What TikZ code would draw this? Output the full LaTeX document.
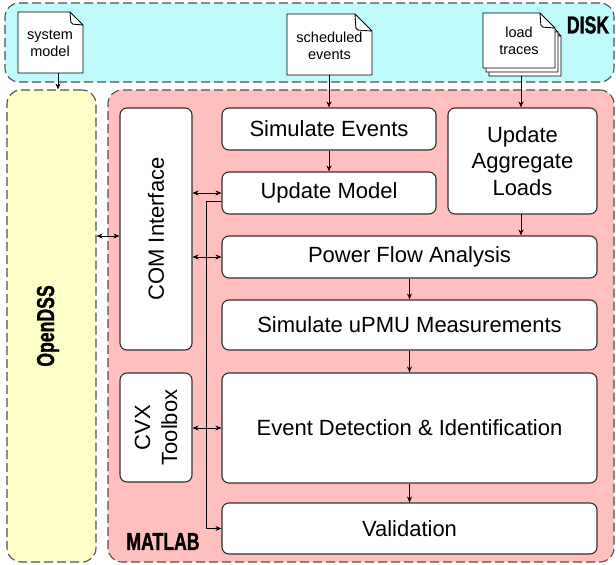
\documentclass[tikz,border=0pt]{standalone}
\usepackage{fontspec}
\setmainfont{Liberation Sans}
\newfontfamily\condbf{Liberation Sans Bold}[FakeStretch=0.72,FakeBold=1.2]
\usetikzlibrary{arrows.meta,calc}
\definecolor{diskc}{HTML}{BFFBFC}
\definecolor{matc}{HTML}{FFBFBF}
\definecolor{dssc}{HTML}{FFFFC8}
\definecolor{edgec}{HTML}{303030}
\definecolor{dashc}{HTML}{505050}
\newcommand\mydoc[5]{%
  \draw[docline] (#1,#2) -- (#3-#5,#2) -- (#3,#2+#5) -- (#3,#4) -- (#1,#4) -- cycle;
  \draw[docline, fill=none, rounded corners=2pt] (#3-#5,#2) -- (#3-#5+1,#2+#5-1) -- (#3,#2+#5);
}
\begin{document}
\begin{tikzpicture}[x=1pt,y=-1pt,
  container/.style={draw=dashc, line width=1.1pt, dash pattern=on 9pt off 4pt, rounded corners=14pt, inner sep=0pt},
  proc/.style={draw=edgec, line width=1.1pt, fill=white, rounded corners=7pt, inner sep=0pt, align=center, font=\fontsize{22}{26.5}\selectfont},
  doctext/.style={align=center, font=\fontsize{14.5}{17}\selectfont, inner sep=0pt},
  docline/.style={draw=black, line width=0.9pt, fill=white, line join=round},
  arr/.style={-{Stealth[length=6pt,width=5pt]}, line width=0.8pt},
  darr/.style={{Stealth[length=6pt,width=5pt]}-{Stealth[length=6pt,width=5pt]}, line width=0.8pt},
  lbl/.style={font=\condbf\fontsize{24.5}{27}\selectfont, inner sep=0pt}
]
\useasboundingbox (0,0) rectangle (616,565);
\fill[white] (0,0) rectangle (616,565);

% containers
\node[container, fill=diskc, minimum width=609pt, minimum height=79pt] (disk) at (309.5,42.5) {};
\node[container, fill=dssc, minimum width=89pt, minimum height=472pt] (dss) at (51.5,326) {};
\node[container, fill=matc, minimum width=506pt, minimum height=472pt] (matlab) at (361,326) {};

\node[lbl] (disklbl) at (588,25) {DISK};
\node[lbl] (matlbl) at (163,541.5) {MATLAB};
\node[lbl, rotate=90] (dsslbl) at (48,326) {OpenDSS};

% documents
\mydoc{18}{12}{83}{73}{13}
\node[doctext] (sysdoc) at (50,43) {system\\model};
\coordinate (sysbot) at (58,73);

\mydoc{287}{14}{372}{75}{17}
\node[doctext] (schdoc) at (329.5,46) {scheduled\\events};
\coordinate (schbot) at (329,75);

\mydoc{489}{21}{561}{76}{15}
\mydoc{486}{17}{558}{72}{15}
\mydoc{483}{13}{555}{68}{15}
\node[doctext] (loaddoc) at (519,41) {load\\traces};
\coordinate (loadbot) at (521,76);

% process boxes
\node[proc, minimum width=214pt, minimum height=42pt] (simev) at (329,129) {Simulate Events};
\node[proc, minimum width=214pt, minimum height=42pt] (updmod) at (329,193) {Update Model};
\node[proc, minimum width=149pt, minimum height=106pt] (aggr) at (522.5,161) {Update\\Aggregate\\Loads};
\node[proc, minimum width=375pt, minimum height=42pt] (pfa) at (409.5,257) {Power Flow Analysis};
\node[proc, minimum width=375pt, minimum height=50pt] (upmu) at (409.5,325) {Simulate uPMU Measurements};
\node[proc, minimum width=375pt, minimum height=110pt] (evdet) at (409.5,428) {Event Detection \& Identification};
\node[proc, minimum width=375pt, minimum height=51pt] (valid) at (409.5,528.5) {Validation};
\node[proc, minimum width=72pt, minimum height=242pt] (com) at (156,229) {};
\node[rotate=90, font=\fontsize{22}{26.5}\selectfont, inner sep=0pt] (comlbl) at (com.center) {COM Interface};
\node[proc, minimum width=72pt, minimum height=109pt] (cvx) at (156,427.5) {};
\node[rotate=90, align=center, font=\fontsize{22}{27}\selectfont, inner sep=0pt] (cvxlbl) at (cvx.center) {CVX\\Toolbox};

% connectors
\draw[arr] (sysbot) -- (sysbot |- dss.north);
\draw[arr] (schbot) -- (schbot |- simev.north);
\draw[arr] (loadbot) -- (loadbot |- aggr.north);
\draw[arr] (simev) -- (updmod);
\coordinate (aggrout) at (521,214);
\draw[arr] (aggrout) -- (aggrout |- pfa.north);
\draw[arr] (pfa) -- (upmu);
\draw[arr] (upmu) -- (evdet);
\draw[arr] (evdet) -- (valid);

\draw[darr] (updmod.west -| com.east) -- (updmod.west);
\draw[darr] (pfa.west -| com.east) -- (pfa.west);
\draw[darr] (evdet.west -| cvx.east) -- (evdet.west);
\coordinate (comin) at ([yshift=-7pt]com.west);
\draw[darr] (comin -| dss.east) -- (comin);

\draw[arr, line width=0.8pt] ([yshift=-8pt]updmod.west) -- ++(-15,0) |- (valid.west);
\end{tikzpicture}
\end{document}
